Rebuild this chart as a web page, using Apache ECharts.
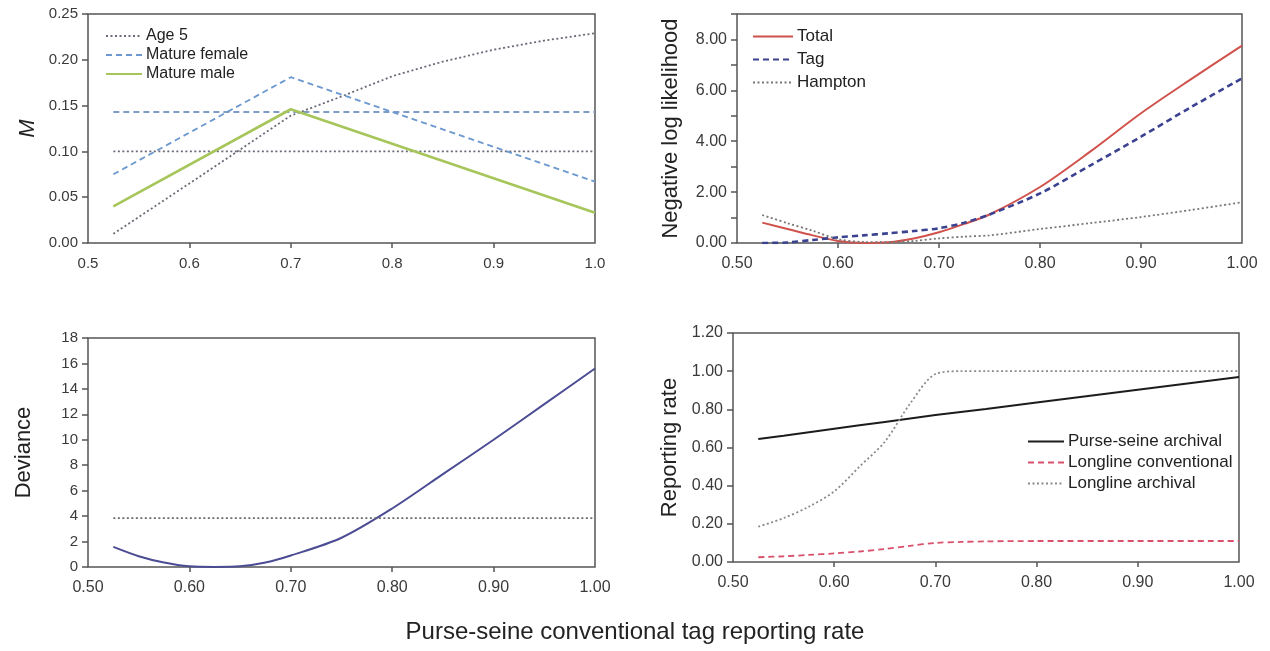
<!DOCTYPE html>
<html>
<head>
<meta charset="utf-8">
<title>Purse-seine conventional tag reporting rate</title>
<script src="https://cdn.jsdelivr.net/npm/echarts@6/dist/echarts.min.js"></script>
<style>
  html, body { margin: 0; padding: 0; background: #fff; }
  #chart { width: 1270px; height: 651px; }
</style>
</head>
<body>
<div id="chart"></div>
<script>
// Panel A: natural mortality M against the reporting rate
const ageX = [0.525, 0.6, 0.7, 0.75, 0.8, 0.85, 0.9, 0.95, 1.0];
const age5M = [0.010, 0.065, 0.139, 0.160, 0.182, 0.198, 0.211, 0.221, 0.229];
const matureX = [0.525, 0.7, 1.0];
const matureFemaleM = [0.075, 0.181, 0.067];
const matureMaleM = [0.040, 0.146, 0.033];
const baseRangeX = [0.525, 1.0];
const baseAge5M = [0.100, 0.100];
const baseMatureM = [0.143, 0.143];

// Panel B: negative log likelihood components
const nllX = [0.525, 0.55, 0.575, 0.6, 0.625, 0.65, 0.675, 0.7, 0.725, 0.75, 0.8, 0.85, 0.9, 0.95, 1.0];
const totalNll = [0.80, 0.55, 0.30, 0.08, 0.00, 0.03, 0.18, 0.42, 0.75, 1.12, 2.20, 3.60, 5.10, 6.45, 7.76];
const tagNll = [0.00, 0.02, 0.12, 0.22, 0.30, 0.38, 0.47, 0.58, 0.80, 1.12, 1.95, 3.05, 4.18, 5.35, 6.47];
const hamptonNll = [1.10, 0.78, 0.48, 0.15, 0.04, 0.03, 0.08, 0.18, 0.25, 0.30, 0.55, 0.78, 1.02, 1.30, 1.60];

// Panel C: deviance profile and the 95% chi-square cut-off
const devX = [0.525, 0.55, 0.575, 0.6, 0.625, 0.65, 0.675, 0.7, 0.75, 0.8, 0.85, 0.9, 0.95, 1.0];
const deviance = [1.58, 0.85, 0.35, 0.05, 0.00, 0.05, 0.35, 0.90, 2.30, 4.60, 7.30, 10.0, 12.8, 15.6];
const chiCut = [3.84, 3.84];

// Panel D: estimated reporting rates
const rrX = [0.525, 0.55, 0.575, 0.6, 0.625, 0.65, 0.675, 0.7, 0.725, 0.75, 0.8, 0.9, 1.0];
const psArchival = [0.645, 0.662, 0.680, 0.698, 0.716, 0.734, 0.752, 0.770, 0.786, 0.802, 0.836, 0.903, 0.970];
const llConventional = [0.025, 0.030, 0.037, 0.045, 0.055, 0.068, 0.085, 0.100, 0.105, 0.108, 0.110, 0.110, 0.110];
const llArchival = [0.185, 0.23, 0.29, 0.37, 0.50, 0.63, 0.83, 0.985, 1.0, 1.0, 1.0, 1.0, 1.0];

// Tick labels
const xTicks = [0.5, 0.6, 0.7, 0.8, 0.9, 1.0];
const xInnerTicks = [0.6, 0.7, 0.8, 0.9];

const pairs = (xs, ys) => xs.map((x, i) => [x, ys[i]]);
const FONT = '"Liberation Sans", Arial, Helvetica, sans-serif';
const DOT = [2, 2.5];
const DASH = [6, 4];

const grids = [
  { left: 88, top: 14, width: 507, height: 229 },
  { left: 737, top: 14, width: 505, height: 229 },
  { left: 88, top: 338, width: 507, height: 229 },
  { left: 733, top: 333, width: 506, height: 229 }
].map(g => Object.assign(g, { show: true, borderColor: '#555', borderWidth: 1.5, backgroundColor: 'transparent' }));

function xAxisFor(gridIndex, digits, fontSize, margin) {
  return {
    type: 'value', gridIndex, min: 0.5, max: 1.0, interval: 0.1,
    axisLine: { show: false },
    axisTick: { show: true, length: 5, lineStyle: { color: '#555', width: 1.5 }, customValues: xInnerTicks },
    axisLabel: { color: '#3a3a3a', fontFamily: FONT, fontSize, margin,
      customValues: xTicks, formatter: v => v.toFixed(digits) },
    splitLine: { show: false }
  };
}

function yAxisFor(gridIndex, min, max, interval, fmt, fontSize, name, nameGap, italic) {
  return {
    type: 'value', gridIndex, min, max, interval,
    axisLine: { show: false },
    axisTick: { show: true, length: 6, lineStyle: { color: '#555', width: 1.5 } },
    axisLabel: { color: '#3a3a3a', fontFamily: FONT, fontSize, margin: 10, formatter: fmt },
    splitLine: { show: false },
    name, nameLocation: 'middle', nameGap, nameRotate: 90,
    nameTextStyle: { color: '#222', fontFamily: FONT, fontSize: 22, fontStyle: italic ? 'italic' : 'normal' }
  };
}

function line(name, xi, yi, data, color, width, type, smooth) {
  return {
    name, type: 'line', xAxisIndex: xi, yAxisIndex: yi, data,
    symbol: 'none', smooth: smooth || false, clip: true,
    lineStyle: { color, width, type },
    itemStyle: { color },
    emphasis: { disabled: true }, silent: true, animation: false
  };
}

function legendAt(names, left, top, itemWidth, gap, fontSize) {
  return {
    data: names, left, top, orient: 'vertical', itemWidth, itemHeight: 14, itemGap: gap,
    selectedMode: false,
    itemStyle: { opacity: 0 },
    textStyle: { color: '#222', fontFamily: FONT, fontSize, padding: [0, 0, 0, -1] }
  };
}

const chart = echarts.init(document.getElementById('chart'), null, { renderer: 'canvas' });

chart.setOption({
  animation: false,
  backgroundColor: '#fff',
  grid: grids,
  xAxis: [
    xAxisFor(0, 1, 15, 13),
    xAxisFor(1, 2, 16, 13),
    xAxisFor(2, 2, 16, 13),
    xAxisFor(3, 2, 16, 13)
  ],
  yAxis: [
    yAxisFor(0, 0, 0.25, 0.05, v => v.toFixed(2), 15, 'M', 49, true),
    yAxisFor(1, 0, 9, 1, v => (Math.round(v) % 2 === 0 ? v.toFixed(2) : ''), 16, 'Negative log likelihood', 55, false),
    yAxisFor(2, 0, 18, 2, v => String(v), 15, 'Deviance', 53, false),
    yAxisFor(3, 0, 1.2, 0.2, v => v.toFixed(2), 16, 'Reporting rate', 52, false)
  ],
  legend: [
    legendAt(['Age 5', 'Mature female', 'Mature male'], 100, 23, 36, 3, 16),
    legendAt(['Total', 'Tag', 'Hampton'], 747, 23, 40, 6, 17),
    legendAt(['Purse-seine archival', 'Longline conventional', 'Longline archival'], 1022, 428, 36, 4, 17)
  ],
  graphic: [{
    type: 'text', left: 'center', top: 620,
    style: { text: 'Purse-seine conventional tag reporting rate', fill: '#222', font: '24px ' + FONT }
  }],
  series: [
    line('Age 5 constant', 0, 0, pairs(baseRangeX, baseAge5M), '#6a6a78', 1.8, DOT),
    line('Mature constant', 0, 0, pairs(baseRangeX, baseMatureM), '#7f9cc8', 1.8, DASH),
    line('Age 5', 0, 0, pairs(ageX, age5M), '#6a6a78', 1.8, DOT),
    line('Mature female', 0, 0, pairs(matureX, matureFemaleM), '#6b98cf', 1.8, DASH),
    line('Mature male', 0, 0, pairs(matureX, matureMaleM), '#a6c55a', 2.6, 'solid'),

    line('Total', 1, 1, pairs(nllX, totalNll), '#d0524c', 2, 'solid', 0.3),
    line('Tag', 1, 1, pairs(nllX, tagNll), '#3b4290', 2.6, DASH, 0.3),
    line('Hampton', 1, 1, pairs(nllX, hamptonNll), '#777777', 1.8, DOT, 0.3),

    line('Deviance', 2, 2, pairs(devX, deviance), '#4b4c94', 2, 'solid', 0.3),
    line('Chi-square cut-off', 2, 2, pairs(baseRangeX, chiCut), '#6a6a6a', 1.8, DOT),

    line('Purse-seine archival', 3, 3, pairs(rrX, psArchival), '#1c1c1c', 2, 'solid'),
    line('Longline conventional', 3, 3, pairs(rrX, llConventional), '#d9506c', 1.8, DASH, 0.3),
    line('Longline archival', 3, 3, pairs(rrX, llArchival), '#8a8a8a', 1.8, DOT, 0.3)
  ]
});
</script>
</body>
</html>
